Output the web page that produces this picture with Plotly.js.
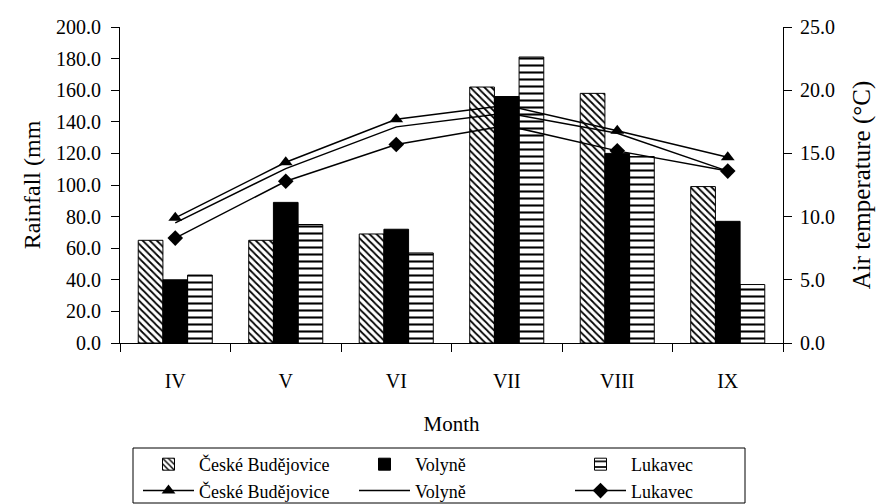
<!DOCTYPE html>
<html><head><meta charset="utf-8">
<script src="https://cdn.plot.ly/plotly-3.0.1.min.js"></script>
<style>html,body{margin:0;padding:0;background:#fff}#chart{width:879px;height:504px}</style>
</head><body><div id="chart"></div>
<script>
const months = ['IV', 'V', 'VI', 'VII', 'VIII', 'IX'];
const stations = ['České Budějovice', 'Volyně', 'Lukavec'];
const rainCB = [65, 65, 69, 162, 158, 99];
const rainVo = [40, 89, 72, 156, 120, 77];
const rainLu = [43, 75, 57, 181, 118, 37];
const tempCB = [9.9, 14.3, 17.7, 18.8, 16.8, 14.7];
const tempVo = [9.5, 13.8, 17.1, 18.2, 16.6, 13.6];
const tempLu = [8.3, 12.8, 15.7, 17.2, 15.2, 13.6];
const rainTicks = [0, 20, 40, 60, 80, 100, 120, 140, 160, 180, 200];
const tempTicks = [0, 5, 10, 15, 20, 25];
const xTitle = 'Month';
const rainTitle = 'Rainfall (mm';
const tempTitle = 'Air temperature (°C)';

const bounds = months.map((m, i) => i - 0.5).concat([months.length - 0.5]);
const FONT = 'Liberation Serif, Times New Roman, serif';
const clear = 'rgba(0,0,0,0)';

const traces = [
  {type: 'bar', name: stations[0], x: months, y: rainCB, xaxis: 'x', yaxis: 'y2',
   marker: {color: clear, line: {color: 'black', width: 1},
            pattern: {shape: '\\', fgcolor: 'black', bgcolor: clear, size: 5, solidity: 0.35, fillmode: 'replace'}}},
  {type: 'bar', name: stations[1], x: months, y: rainVo, xaxis: 'x', yaxis: 'y2',
   marker: {color: 'black', line: {color: 'black', width: 1}}},
  {type: 'bar', name: stations[2], x: months, y: rainLu, xaxis: 'x', yaxis: 'y2',
   marker: {color: clear, line: {color: 'black', width: 1},
            pattern: {shape: '-', fgcolor: 'black', bgcolor: clear, size: 7, solidity: 0.3, fillmode: 'replace'}}},
  {type: 'scatter', mode: 'lines+markers', name: stations[0], x: months, y: tempCB, xaxis: 'x', yaxis: 'y',
   line: {color: 'black', width: 1.5}, marker: {symbol: 'triangle-up', size: 12, color: 'black'}},
  {type: 'scatter', mode: 'lines', name: stations[1], x: months, y: tempVo, xaxis: 'x', yaxis: 'y',
   line: {color: 'black', width: 1.5}},
  {type: 'scatter', mode: 'lines+markers', name: stations[2], x: months, y: tempLu, xaxis: 'x', yaxis: 'y',
   line: {color: 'black', width: 1.5}, marker: {symbol: 'diamond', size: 12, color: 'black'}}
];

// plot area in px: x 120..783, y 27..343 (for legend box placement in paper units)
const PW = 663, PH = 316, PL = 120, PB = 343;
const px2x = (p) => (p - PL) / PW;
const px2y = (p) => (PB - p) / PH;

const layout = {
  width: 879, height: 504,
  margin: {l: 120, r: 96, t: 27, b: 161, pad: 0, autoexpand: false},
  paper_bgcolor: 'white', plot_bgcolor: 'white',
  font: {family: FONT, size: 19, color: 'black'},
  barmode: 'group', bargap: 0.33, bargroupgap: 0,
  showlegend: true,
  xaxis: {type: 'category', categoryorder: 'array', categoryarray: months,
          tickson: 'boundaries', ticks: 'outside', ticklen: 8, tickwidth: 1, tickcolor: 'black',
          showline: true, linecolor: 'black', linewidth: 1, showgrid: false, zeroline: false,
          tickfont: {size: 20}, ticklabelstandoff: 20, anchor: 'y', automargin: false,
          title: {text: xTitle, font: {size: 21}, standoff: 25}},
  xaxis2: {overlaying: 'x', anchor: 'y', type: 'linear', range: [-0.5, months.length - 0.5],
           tickmode: 'array', tickvals: bounds, ticks: 'inside', ticklen: 8, tickwidth: 1, tickcolor: 'black',
           showticklabels: false, showgrid: false, zeroline: false, showline: false, side: 'bottom'},
  yaxis: {side: 'right', anchor: 'x', range: [0, 25], tickmode: 'array', tickvals: tempTicks, tickformat: '.1f',
          ticks: 'outside', ticklen: 8, tickwidth: 1, tickcolor: 'black',
          showline: true, linecolor: 'black', linewidth: 1, showgrid: false, zeroline: false,
          tickfont: {size: 20}, ticklabelstandoff: 4, automargin: false,
          title: {text: tempTitle, font: {size: 25}, standoff: 18}},
  yaxis2: {side: 'left', overlaying: 'y', anchor: 'x', range: [0, 200], tickmode: 'array', tickvals: rainTicks, tickformat: '.1f',
           ticks: 'outside', ticklen: 8, tickwidth: 1, tickcolor: 'black',
           showline: true, linecolor: 'black', linewidth: 1, showgrid: false, zeroline: false,
           tickfont: {size: 20}, ticklabelstandoff: 6, automargin: false,
           title: {text: rainTitle, font: {size: 24}, standoff: 8}},
  yaxis3: {side: 'left', overlaying: 'y', anchor: 'x', range: [0, 200], tickmode: 'array', tickvals: rainTicks,
           ticks: 'inside', ticklen: 8, tickwidth: 1, tickcolor: 'black',
           showticklabels: false, showgrid: false, zeroline: false, showline: false},
  yaxis4: {side: 'right', overlaying: 'y', anchor: 'x', range: [0, 25], tickmode: 'array', tickvals: tempTicks,
           ticks: 'inside', ticklen: 8, tickwidth: 1, tickcolor: 'black',
           showticklabels: false, showgrid: false, zeroline: false, showline: false},
  legend: {orientation: 'h', x: px2x(138), xanchor: 'left', y: px2y(446), yanchor: 'top',
           entrywidth: 150, entrywidthmode: 'pixels', itemwidth: 51,
           borderwidth: 0, bgcolor: clear,
           font: {family: FONT, size: 18, color: 'black'}, traceorder: 'normal'},
  shapes: [
    {type: 'rect', xref: 'paper', yref: 'paper', x0: px2x(133), x1: px2x(745), y0: px2y(448), y1: px2y(503),
     line: {color: 'black', width: 1}, fillcolor: clear, layer: 'above'}
  ]
};

Plotly.newPlot('chart', traces, layout, {displayModeBar: false, staticPlot: true});
</script>
</body></html>
